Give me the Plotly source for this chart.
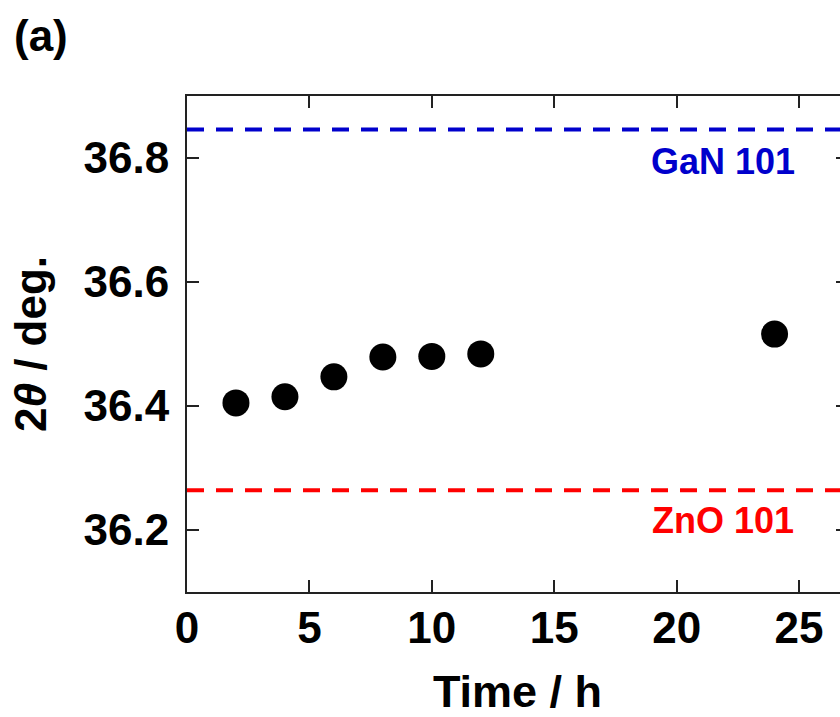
import plotly.graph_objects as go

# Data
time_h = [2, 4, 6, 8, 10, 12, 24]
two_theta = [36.405, 36.415, 36.447, 36.479, 36.480, 36.484, 36.516]
gan_101 = 36.846
zno_101 = 36.264
x_ticks = [0, 5, 10, 15, 20, 25]
y_ticks = [36.2, 36.4, 36.6, 36.8]
x_range = [0, 27]
y_range = [36.1, 36.9]

FONT = "Arial, Liberation Sans, sans-serif"
AX = "#222222"

fig = go.Figure()

fig.add_trace(go.Scatter(x=x_range, y=[gan_101, gan_101], mode="lines",
                         line=dict(color="rgb(0,0,204)", width=4, dash="17px,12px"),
                         hoverinfo="skip"))
fig.add_trace(go.Scatter(x=x_range, y=[zno_101, zno_101], mode="lines",
                         line=dict(color="rgb(255,0,0)", width=4, dash="17px,12px"),
                         hoverinfo="skip"))
fig.add_trace(go.Scatter(x=time_h, y=two_theta, mode="markers",
                         marker=dict(color="black", size=27, line=dict(width=0))))
fig.add_trace(go.Scatter(x=[], y=[], yaxis="y2", showlegend=False))

fig.add_annotation(x=21.9, y=36.795, text="GaN 101", showarrow=False,
                   font=dict(family=FONT, size=36, color="rgb(0,0,204)", weight="bold"),
                   xanchor="center", yanchor="middle")
fig.add_annotation(x=21.9, y=36.216, text="ZnO 101", showarrow=False,
                   font=dict(family=FONT, size=36, color="rgb(255,0,0)", weight="bold"),
                   xanchor="center", yanchor="middle")
fig.add_annotation(x=-0.221, y=1.122, xref="paper", yref="paper", text="(a)", showarrow=False,
                   font=dict(family=FONT, size=44, color="black", weight="bold"),
                   xanchor="center", yanchor="middle")

fig.update_layout(
    width=848, height=717,
    margin=dict(l=187, r=0, t=96, b=125),
    plot_bgcolor="white", paper_bgcolor="white",
    showlegend=False,
    font=dict(family=FONT, color="black"),
    xaxis=dict(range=x_range, tickvals=x_ticks, ticks="inside", ticklen=12, tickwidth=2,
               tickcolor=AX, showline=True, linewidth=2, linecolor=AX, mirror="ticks",
               showgrid=False, zeroline=False,
               tickfont=dict(family=FONT, size=44, weight="bold"), ticklabelstandoff=-4,
               title=dict(text="Time / h", font=dict(family=FONT, size=45, weight="bold"), standoff=33)),
    yaxis=dict(range=y_range, tickvals=y_ticks, tickformat=".1f", ticks="inside", ticklen=12,
               tickwidth=2, tickcolor=AX, showline=True, linewidth=2, linecolor=AX,
               showgrid=False, zeroline=False,
               tickfont=dict(family=FONT, size=44, weight="bold"), ticklabelstandoff=7,
               title=dict(text="2<i>θ</i> / deg.", font=dict(family=FONT, size=44, weight="bold"), standoff=23)),
    yaxis2=dict(range=y_range, tickvals=y_ticks, overlaying="y", side="right", ticks="inside",
                ticklen=12, tickwidth=2, tickcolor=AX, showline=False, showticklabels=False,
                showgrid=False, zeroline=False),
)

fig.write_html("out.html", config={"displayModeBar": False},
               post_script="document.body.style.margin='0';document.documentElement.style.overflow='hidden';document.body.style.overflow='hidden';")
